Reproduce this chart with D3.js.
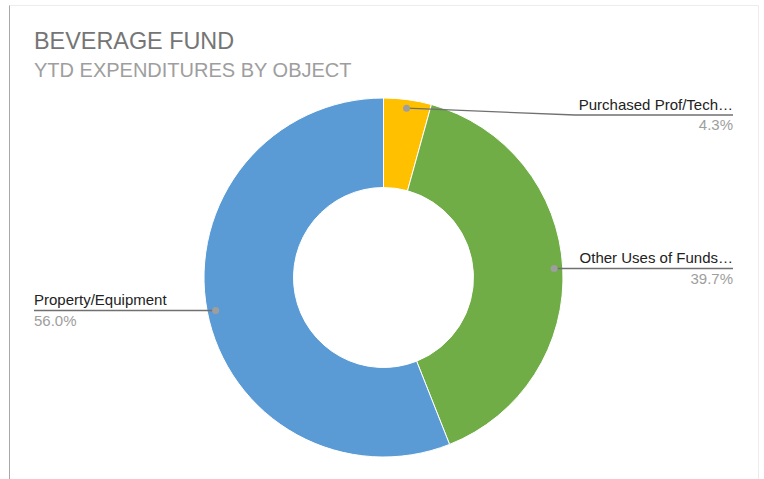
<!DOCTYPE html>
<html>
<head>
<meta charset="utf-8">
<script src="https://cdn.jsdelivr.net/npm/d3@7"></script>
<style>
  html, body { margin: 0; padding: 0; background: #fff; }
  svg { display: block; font-family: "Liberation Sans", Arial, sans-serif; }
</style>
</head>
<body>
<svg id="chart" width="764" height="479"></svg>
<script>
// Expenditure categories, in drawing order (clockwise from 12 o'clock)
const categories = ["Purchased Prof/Tech…", "Other Uses of Funds…", "Property/Equipment"];
const shares = [4.3, 39.7, 56.0];
const shareLabels = ["4.3%", "39.7%", "56.0%"];
const colors = ["#FFC000", "#70AD47", "#5B9BD5"];

const svg = d3.select("#chart");
const W = 764, H = 479;

// card frame
svg.append("line").attr("x1", 9.5).attr("x2", 758.5).attr("y1", 5.5).attr("y2", 5.5)
  .attr("stroke", "#ececec");
svg.append("line").attr("x1", 758.5).attr("x2", 758.5).attr("y1", 5.5).attr("y2", H)
  .attr("stroke", "#ececec");
svg.append("line").attr("x1", 9.5).attr("x2", 9.5).attr("y1", 5.5).attr("y2", H)
  .attr("stroke", "#a8a8a8");

// titles
svg.append("text").attr("x", 34).attr("y", 49)
  .attr("font-size", 23.4).attr("fill", "#757575").text("BEVERAGE FUND");
svg.append("text").attr("x", 34).attr("y", 77)
  .attr("font-size", 20).attr("fill", "#9e9e9e").text("YTD EXPENDITURES BY OBJECT");

const cx = 383.5, cy = 277.5, outerR = 179.5, innerR = 90;

const data = categories.map((c, i) => ({ name: c, value: shares[i], label: shareLabels[i], color: colors[i] }));
const pie = d3.pie().value(d => d.value).sort(null);
const arcs = pie(data);
const arc = d3.arc().innerRadius(innerR).outerRadius(outerR);

const g = svg.append("g").attr("transform", `translate(${cx},${cy})`);
g.selectAll("path.slice").data(arcs).join("path")
  .attr("class", "slice")
  .attr("d", arc)
  .attr("fill", d => d.data.color)
  .attr("stroke", "#fff")
  .attr("stroke-width", 1);

// leader lines and labels
const dotR = outerR * 0.952;
const labelRightX = 733, labelLeftX = 34;
const lineY = [115, 268.5, 310.5];

arcs.forEach((d, i) => {
  const mid = (d.startAngle + d.endAngle) / 2;
  const px = cx + Math.sin(mid) * dotR;
  const py = cy - Math.cos(mid) * dotR;
  const right = Math.sin(mid) > 0;
  const ly = lineY[i];
  const endX = right ? labelRightX : labelLeftX;
  let pts;
  if (Math.abs(ly - py) > 2) {
    const bendX = right ? 575 : 190;
    pts = [[px, py], [bendX, ly], [endX, ly]];
  } else {
    pts = [[px, ly], [endX, ly]];
  }
  svg.append("path")
    .attr("d", d3.line()(pts))
    .attr("fill", "none")
    .attr("stroke", "#707070")
    .attr("stroke-width", 1.3);
  svg.append("circle").attr("cx", pts[0][0]).attr("cy", pts[0][1]).attr("r", 3.5)
    .attr("fill", "#9e9e9e");
  svg.append("text")
    .attr("x", endX).attr("y", ly - 5.5)
    .attr("text-anchor", right ? "end" : "start")
    .attr("font-size", 15).attr("fill", "#222")
    .text(d.data.name);
  svg.append("text")
    .attr("x", endX).attr("y", ly + 15)
    .attr("text-anchor", right ? "end" : "start")
    .attr("font-size", 15).attr("fill", "#9e9e9e")
    .text(d.data.label);
});
</script>
</body>
</html>
